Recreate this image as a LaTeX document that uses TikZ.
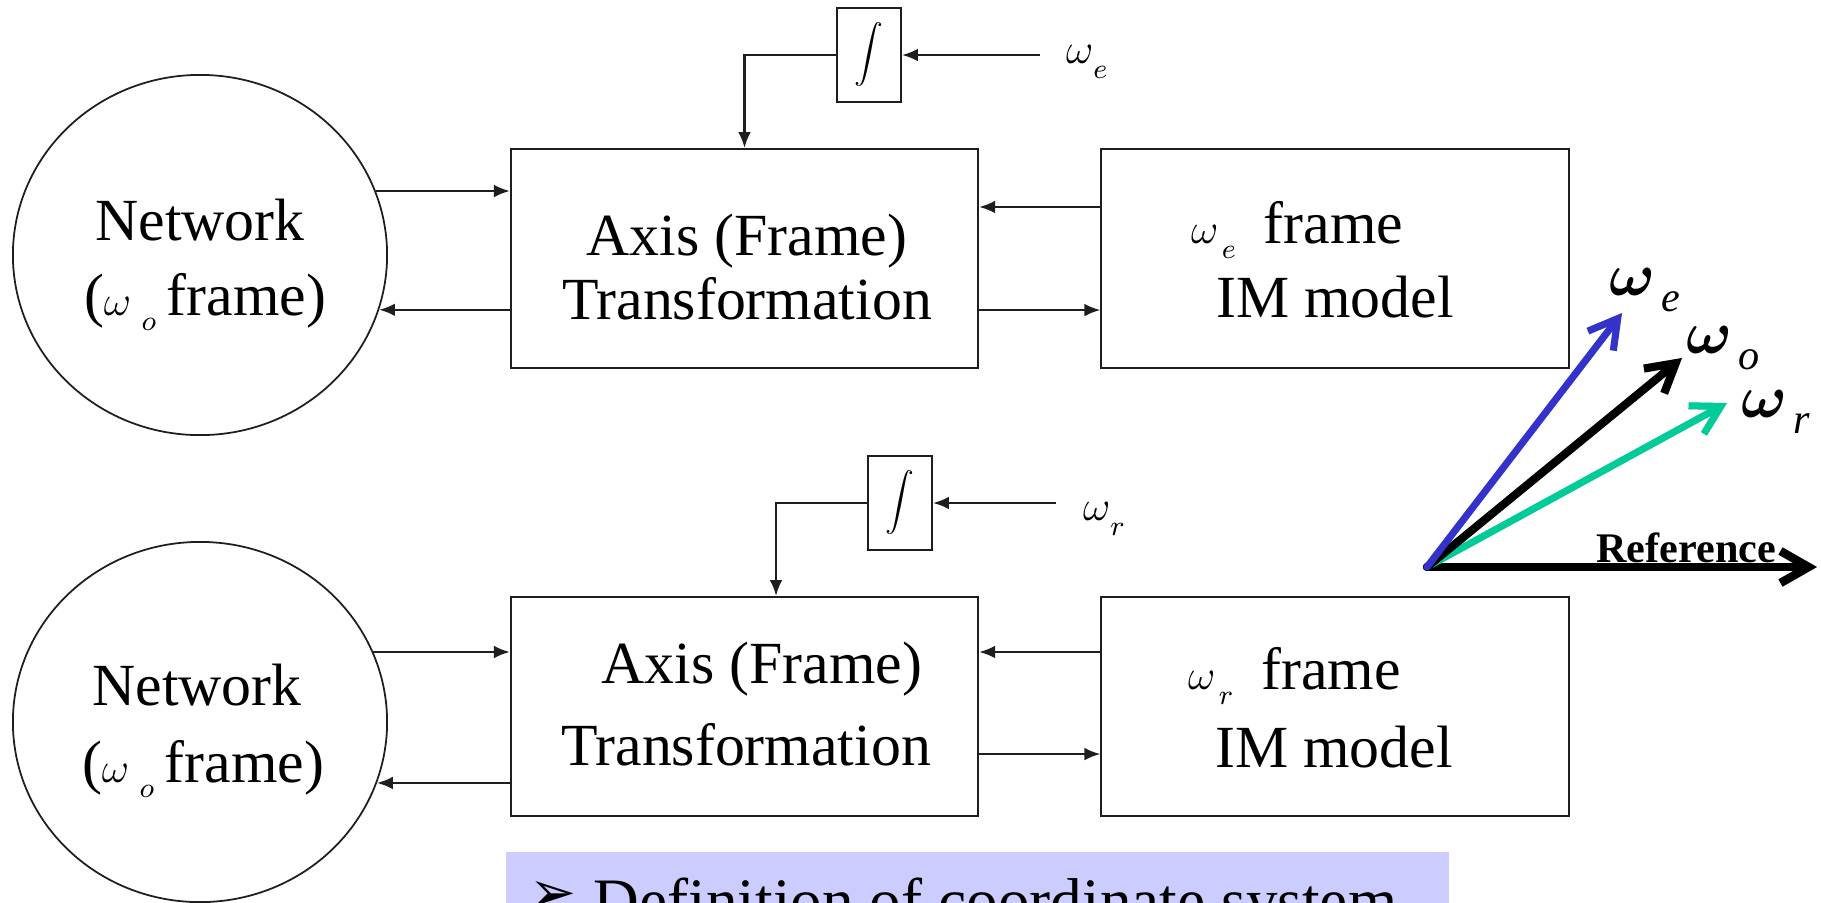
\documentclass[tikz,border=0pt]{standalone}
\usepackage{graphicx}
\usepackage{fontspec}
\setmainfont{Liberation Serif}
\newfontfamily\dingfont{DejaVu Sans}
\usetikzlibrary{arrows.meta,shapes.geometric,calc}

\definecolor{vecblue}{RGB}{51,51,204}
\definecolor{vecgreen}{RGB}{0,204,153}
\definecolor{bannerbg}{RGB}{204,204,255}
\definecolor{linegray}{RGB}{30,30,30}

% small omega with a lowered subscript, as used in the block labels
\newcommand\wsub[2][0pt]{{\fontsize{13}{13}\selectfont$\omega$}\hspace{#1}\raisebox{-4.3pt}{\fontsize{8}{8}\selectfont$#2$}}
% large italic omega with subscript for the phasor labels
\newcommand\vlab[1]{{\fontsize{17}{17}\selectfont\boldmath$\omega$}\hspace{2pt}\raisebox{-4.8pt}{\fontsize{12}{12}\selectfont\itshape #1}}
% integral sign scaled to the height of its box
\newcommand\intsign{\resizebox*{!}{0.64cm}{$\displaystyle\int$}}

\begin{document}
\begin{tikzpicture}[x=0.01cm,y=-0.01cm,
  line width=0.6pt, draw=linegray,
  blk/.style={draw,rectangle,minimum width=4.67cm,minimum height=2.19cm,inner sep=0pt},
  net/.style={draw,ellipse,line width=0.5pt,minimum width=3.74cm,minimum height=3.6cm,inner sep=0pt},
  intbox/.style={draw,rectangle,minimum width=0.64cm,minimum height=0.94cm,inner sep=0pt},
  arr/.style={-{Latex[length=4.5pt,width=3.6pt]}},
  lbl/.style={font=\fontsize{17}{20}\selectfont,inner sep=0pt,anchor=base},
  lblw/.style={font=\fontsize{17}{20}\selectfont,inner sep=0pt,anchor=base west},
  vec/.style={line width=2pt,line cap=round,-{Straight Barb[length=2.8mm,width=3.2mm]}},
  vshadow/.style={vec,draw=black,opacity=0.18,shift={(2,3)}},
]
\clip (0,0) rectangle (1821,902);
\fill[white] (0,0) rectangle (1821,902);

% ---------- upper chain: omega_e frame ----------
\node[net]    (net1) at (200,255) {};
\node[blk]    (ax1)  at (744.5,258.5) {};
\node[blk]    (im1)  at (1335,258.5) {};
\node[intbox] (int1) at (869,55) {\intsign};
\coordinate   (we1)  at (1040,55);

\node[lbl]  (net1a) at (200,240) {Network};
\node[lbl]  (net1b) at (205,315) {(\wsub[3pt]{o}\hspace{3pt}frame)};
\node[lbl]  (ax1a)  at (747,255) {Axis (Frame)};
\node[lbl]  (ax1b)  at (747,319) {Transformation};
\node[lblw] (im1a)  at (1190,243) {\wsub[1pt]{e}\hspace{8pt}frame};
\node[lbl]  (im1b)  at (1335,317) {IM model};
\node[anchor=base west,inner sep=0pt] (we1lab) at (1065,63) {\wsub{e}};

\draw[arr] (net1.20) -- (net1.20 -| ax1.west);
\draw[arr] (ax1.west |- net1.-17) -- (net1.-17);
\draw[arr] ([yshift=0.515cm]im1.west) -- ([yshift=0.515cm]ax1.east);
\draw[arr] ([yshift=-0.515cm]ax1.east) -- ([yshift=-0.515cm]im1.west);
\draw[arr] (we1) -- (int1.east);
\draw[arr] (int1.west) -| (ax1.north);

% ---------- lower chain: omega_r frame ----------
\node[net]    (net2) at (200,722) {};
\node[blk]    (ax2)  at (744.5,706.5) {};
\node[blk]    (im2)  at (1335,706.5) {};
\node[intbox] (int2) at (900,503) {\intsign};
\coordinate   (wr1)  at (1056,503);

\node[lbl]  (net2a) at (197,705) {Network};
\node[lbl]  (net2b) at (203,782) {(\wsub[3pt]{o}\hspace{3pt}frame)};
\node[lbl]  (ax2a)  at (762,683) {Axis (Frame)};
\node[lbl]  (ax2b)  at (746,765) {Transformation};
\node[lblw] (im2a)  at (1187,689) {\wsub[1pt]{r}\hspace{8pt}frame};
\node[lbl]  (im2b)  at (1334,767) {IM model};
\node[anchor=base west,inner sep=0pt] (wr1lab) at (1082,520) {\wsub{r}};

\draw[arr] (net2.22) -- (net2.22 -| ax2.west);
\draw[arr] (ax2.west |- net2.-19) -- (net2.-19);
\draw[arr] ([yshift=0.545cm]im2.west) -- ([yshift=0.545cm]ax2.east);
\draw[arr] ([yshift=-0.475cm]ax2.east) -- ([yshift=-0.475cm]im2.west);
\draw[arr] (wr1) -- (int2.east);
\draw[arr] (int2.west) -| ([xshift=0.315cm]ax2.north);

% ---------- phasor sketch ----------
\coordinate (O)    at (1427,567);
\coordinate (ref)  at (1817,567);
\coordinate (tipe) at (1622,313);
\coordinate (tipo) at (1682,358);
\coordinate (tipr) at (1727,403);

% soft drop shadows under the phasors
\draw[vshadow,line width=2.4pt] (O) -- (ref);
\draw[vshadow] (O) -- (tipr);
\draw[vshadow,line width=2.3pt] (O) -- (tipo);
\draw[vshadow] (O) -- (tipe);

\draw[vec,line width=2.4pt,black] (O) -- (ref);
\draw[vec,vecgreen] (O) -- (tipr);
\draw[vec,line width=2.3pt,black] (O) -- (tipo);
\draw[vec,vecblue] (O) -- (tipe);

\node[anchor=base east,inner sep=0pt,font=\fontsize{12}{12}\selectfont\bfseries] (reflab) at (1777,562) {Reference};
\node[anchor=base west,inner sep=0pt] (welab) at (1608,295) {\vlab{e}};
\node[anchor=base west,inner sep=0pt] (wolab) at (1685,353) {\vlab{o}};
\node[anchor=base west,inner sep=0pt] (wrlab) at (1740,417) {\vlab{r}};

% ---------- caption banner ----------
\node[fill=bannerbg,draw=none,anchor=north west,minimum width=9.42cm,minimum height=0.8cm,inner sep=0pt] (banner) at (505,851) {};
\node[anchor=base west,inner sep=0pt,font=\fontsize{18}{18}\selectfont] (bantxt) at (528,922)
  {\raisebox{3pt}{\dingfont\fontsize{16}{16}\selectfont ➢}\hspace{5pt}Definition of coordinate system};
\end{tikzpicture}
\end{document}
